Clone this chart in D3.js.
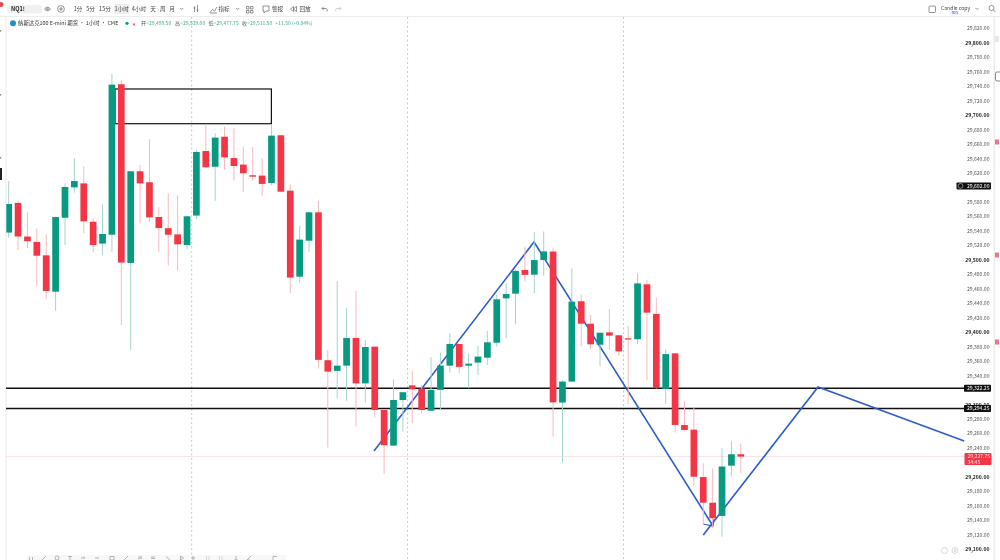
<!DOCTYPE html>
<html><head><meta charset="utf-8">
<script src="https://cdn.jsdelivr.net/npm/d3@7"></script>
<style>
html,body{margin:0;padding:0;background:#fff;overflow:hidden}
svg{display:block;filter:blur(0.4px)}
text{font-family:"Noto Sans CJK SC","Liberation Sans",Arial,sans-serif}
</style></head><body><svg id="c" width="1000" height="560"></svg>
<script>
const opens=[29537.5,29578.5,29532,29524.5,29506,29455.75,29558,29600,29605.5,29552.5,29522.25,29534.5,29742.5,29495.5,29622.25,29607,29559,29543.5,29535,29520.25,29561,29650.25,29628.5,29670,29640.5,29631.5,29616.75,29616.25,29606,29672,29595.5,29476.5,29526.25,29565.5,29361,29346.25,29353.5,29391.75,29329,29379.75,29292.25,29243,29306,29326.25,29321.75,29291.25,29320,29353.5,29383.5,29353.5,29357.75,29364.5,29385.25,29446.5,29453,29485.75,29479.25,29499.5,29511.25,29302.5,29331.5,29442.5,29411.5,29382.5,29399.5,29395.5,29391.25,29390,29466,29425,29321.25,29370.5,29271.5,29265,29199.5,29164,29145.75,29215.25,29231];
const closes=[29577,29532,29525.5,29505.5,29456.75,29559,29600.5,29608.75,29553,29520.25,29535.5,29742,29496,29622.25,29605.5,29558.5,29543.75,29534.5,29521.25,29560,29649,29627.75,29668.75,29641.5,29629.5,29619.5,29614.75,29604.75,29671.5,29594,29475.25,29527.75,29565.5,29361.5,29345.25,29353.5,29391.75,29329,29379.25,29292.25,29243.5,29306,29316.75,29320.75,29292.25,29320,29353.5,29383.5,29351.75,29356.25,29366,29385.75,29445.25,29452.5,29484.5,29479,29499.5,29511.5,29302.75,29331.5,29442,29411.5,29383,29399,29395,29373.25,29390,29467.25,29426.75,29322.5,29369.5,29271.5,29264.5,29200,29164,29142.5,29214,29231,29227.75];
const highs=[29608.75,29581.5,29565.5,29543,29535,29559.5,29605.5,29640.25,29629,29557.25,29576.5,29756.75,29748.5,29622.5,29631,29666.5,29572.5,29591.75,29589,29560.5,29651.75,29687.5,29674.75,29684,29682.5,29656.25,29655.5,29640.25,29686.25,29672.5,29604.25,29546.5,29565.75,29581.5,29375.25,29470.5,29433.25,29456.75,29389,29380.25,29292.5,29334.5,29317,29346.25,29326.75,29365,29371.5,29398.25,29384,29370.5,29380.75,29401.5,29451.25,29467.25,29486.75,29518,29538.25,29539,29515.75,29333.75,29488,29452,29423.5,29399.5,29431.75,29396,29408.75,29481.25,29472,29448,29376,29371,29303.75,29296,29218.5,29211.5,29239.25,29249,29246];
const lows=[29530.5,29513.5,29515.75,29463.75,29446,29429.5,29520.25,29592.75,29536.5,29510.75,29506.5,29511,29409.75,29375.25,29550.25,29552.5,29511,29492.25,29485,29514.25,29556.25,29626.25,29581.25,29624,29609.25,29593.25,29609.25,29588,29603.25,29594,29453.5,29468.25,29511,29349.5,29240.25,29308.5,29305,29269.25,29302.5,29282,29203.75,29242.5,29262.25,29273.75,29287.5,29291,29292.25,29343.75,29343,29322.25,29340.5,29354.5,29379.75,29391.25,29411,29469.5,29453.5,29477.75,29255.5,29219.5,29331,29380.75,29376,29353,29375.25,29367.25,29300.5,29383.5,29333.75,29321.75,29300.5,29261,29263.75,29187.25,29133.25,29128.5,29117,29201,29204.75];
const hiddenTicks=[29220,29320,29600];
const priceTicks=d3.range(29100,29821,20).filter(t=>!hiddenTicks.includes(t));
const dividers=[19.5,42.5,65.5];
const levels=[29322.25,29294.25];
const lastPrice=29227.75;
const hoverPrice=29602;
const boxIdx=[11.33,27.99];
const boxPrice=[29736,29688];
const blueA=[[38.92,29235.5],[55.97,29524.5],[75.04,29131.8]];
const blueB=[[74,29119.4],[86.23,29323.9],[101.8,29249.4]];
const intervals=["1分","5分","15分","1小时","4小时","天","周","月"];
const intervalX=[78,90.5,105,121.7,139,153,162.7,172];
const ohlcLabels=["开","高","低","收"];
const ohlcValues=["29,499.50","29,539.00","29,477.75","29,511.50"];

const GREEN="#089981",RED="#f23645",AX="#555";
const svg=d3.select("#c");
const x=d3.scaleLinear().domain([0,78]).range([8.67,740.8]);
const y=d3.scaleLinear().domain([29100,29800]).range([549,42.7]);
const bw=6.7;

svg.append("clipPath").attr("id","pane").append("rect").attr("x",6.3).attr("y",17).attr("width",958).attr("height",543);

// panel frame
svg.append("rect").attr("x",5.5).attr("y",16).attr("width",1).attr("height",544).attr("fill","#ececec");
svg.append("rect").attr("x",993.5).attr("y",16).attr("width",1.5).attr("height",544).attr("fill","#ececec");
svg.append("rect").attr("x",0).attr("y",16).attr("width",1000).attr("height",1).attr("fill","#ececec");

// dotted dividers
svg.selectAll("line.div").data(dividers).join("line").attr("class","div")
 .attr("x1",d=>x(d)).attr("x2",d=>x(d)).attr("y1",17).attr("y2",560)
 .attr("stroke","#b9bcc4").attr("stroke-width",.8).attr("stroke-dasharray","2 2.5");

// last price line
svg.append("line").attr("x1",6).attr("x2",964).attr("y1",y(lastPrice)).attr("y2",y(lastPrice))
 .attr("stroke","#f9e3e5").attr("stroke-width",1);

// drawings (below candles)
svg.append("rect").attr("x",x(boxIdx[0])).attr("y",y(boxPrice[0])).attr("width",x(boxIdx[1])-x(boxIdx[0])).attr("height",y(boxPrice[1])-y(boxPrice[0]))
 .attr("fill","none").attr("stroke","#111").attr("stroke-width",1.2);
svg.selectAll("line.lev").data(levels).join("line").attr("class","lev")
 .attr("x1",6).attr("x2",964).attr("y1",d=>y(d)).attr("y2",d=>y(d)).attr("stroke","#111").attr("stroke-width",1.5);
const ln=d3.line().x(d=>x(d[0])).y(d=>y(d[1]));
[blueA,blueB].forEach(p=>svg.append("path").attr("d",ln(p)).attr("fill","none").attr("stroke","#2d5ccd").attr("stroke-width",1.6));
const tip=blueA[2];
svg.append("path").attr("d",`M${x(tip[0])-10},${y(tip[1])-2}L${x(tip[0])},${y(tip[1])}L${x(tip[0])+1},${y(tip[1])-7}`)
 .attr("fill","none").attr("stroke","#2d5ccd").attr("stroke-width",1.2);

// candles
const candles=opens.map((o,i)=>({i,o,c:closes[i],h:highs[i],l:lows[i]}));
const g=svg.append("g").attr("clip-path","url(#pane)");
g.selectAll("line").data(candles).join("line")
 .attr("x1",d=>x(d.i)).attr("x2",d=>x(d.i)).attr("y1",d=>y(d.h)).attr("y2",d=>y(d.l))
 .attr("stroke",d=>d.c>=d.o?"#a3d6ce":"#f8b9bd").attr("stroke-width",1);
g.selectAll("rect").data(candles).join("rect")
 .attr("x",d=>x(d.i)-bw/2).attr("width",bw)
 .attr("y",d=>y(Math.max(d.o,d.c)))
 .attr("height",d=>Math.max(1.2,Math.abs(y(d.o)-y(d.c))))
 .attr("fill",d=>d.c>=d.o?GREEN:RED);

// right axis
const axis=d3.axisRight(y).tickValues(priceTicks).tickSize(0).tickPadding(0).tickFormat(d3.format(",.2f"));
const ag=svg.append("g").attr("transform","translate(989.5,0)").call(axis);
ag.select(".domain").remove();
ag.selectAll("text").attr("text-anchor","end").attr("x",0).attr("dy","0.33em")
 .attr("fill",d=>d%100===0?"#222":AX).attr("font-weight",d=>d%100===0?700:400)
 .attr("font-size",5.1).attr("font-family","Liberation Sans");

// price badges
function badge(p,x0,w,h,fill,txt){
 const yy=y(p);
 svg.append("rect").attr("x",x0).attr("y",yy-h/2).attr("width",w).attr("height",h).attr("rx",.8).attr("fill",fill);
 svg.append("text").attr("x",989.5).attr("y",yy+1.8).attr("text-anchor","end").attr("font-size",5.1).attr("fill","#fff").attr("font-family","Liberation Sans").text(txt);
}
const fmt=d3.format(",.2f");
badge(hoverPrice,956.5,34.5,7,"#111",fmt(hoverPrice));
svg.append("circle").attr("cx",960.5).attr("cy",y(hoverPrice)).attr("r",2.4).attr("fill","none").attr("stroke","#ccc").attr("stroke-width",.6);
levels.forEach(l=>badge(l,964,27,7,"#111",fmt(l)));
const ly=y(lastPrice);
svg.append("rect").attr("x",964.5).attr("y",ly-3.5).attr("width",27).attr("height",12).attr("rx",.8).attr("fill",RED);
svg.append("text").attr("x",967.5).attr("y",ly+1.8).attr("font-size",5.1).attr("fill","#ffd9dc").attr("font-family","Liberation Sans").text(fmt(lastPrice));
svg.append("text").attr("x",967.5).attr("y",ly+7.2).attr("font-size",5.1).attr("fill","#ffd9dc").attr("font-family","Liberation Sans").text("34:45");

// right-side flags
[142,255,342].forEach(v=>svg.append("rect").attr("x",995).attr("y",v-2.5).attr("width",4).attr("height",5).attr("fill","#ea7a80"));
svg.append("rect").attr("x",995.5).attr("y",72).attr("width",6).attr("height",9).attr("rx",1.5).attr("fill","#fff").attr("stroke","#555").attr("stroke-width",.7);
svg.append("rect").attr("x",995).attr("y",36).attr("width",4).attr("height",6).attr("fill","#e8e8e8");

// left edge
svg.append("rect").attr("x",0).attr("y",168).attr("width",2).attr("height",12).attr("fill","#222");
[30,94,157].forEach(v=>svg.append("rect").attr("x",0).attr("y",v).attr("width",1.2).attr("height",1.6).attr("fill","#888"));
svg.append("circle").attr("cx",1).attr("cy",4.5).attr("r",2.5).attr("fill","#e5484d");

// top toolbar
const tb=svg.append("g").attr("font-size",5.6).attr("fill","#444");
tb.append("rect").attr("x",7).attr("y",5).attr("width",35).attr("height",8.5).attr("rx",2).attr("fill","#f1f1f3");
tb.append("text").attr("x",11).attr("y",11.2).attr("font-weight",700).attr("fill","#222").text("NQ1!");
tb.append("rect").attr("x",114).attr("y",4).attr("width",15.5).attr("height",10).attr("rx",1.5).attr("fill","#eeeef0");
tb.selectAll("text.iv").data(intervals).join("text").attr("class","iv")
 .attr("x",(d,i)=>intervalX[i]).attr("y",11.2).attr("text-anchor","middle").text(d=>d);
tb.append("text").attr("x",218.4).attr("y",11.2).text("指标");
tb.append("text").attr("x",272).attr("y",11.2).text("警报");
tb.append("text").attr("x",299.4).attr("y",11.2).text("回放");
tb.append("text").attr("x",941).attr("y",9.6).attr("font-size",5.1).attr("font-family","Liberation Sans").text("Candle copy");
tb.append("text").attr("x",955).attr("y",14).attr("text-anchor","middle").attr("font-size",3.6).attr("fill","#2962ff").text("保存");
const ic=svg.append("g").attr("fill","none").attr("stroke","#666").attr("stroke-width",.7);
ic.append("path").attr("d","M44.5,9q3,-3.5,6,0q-3,3.5,-6,0z");
ic.append("circle").attr("cx",47.5).attr("cy",9).attr("r",.9);
ic.append("circle").attr("cx",61).attr("cy",9).attr("r",3.4);
ic.append("path").attr("d","M59,9h4M61,7v4");
ic.append("path").attr("d","M180.2,8l1.5,1.5l1.5,-1.5M236.2,8l1.5,1.5l1.5,-1.5M975.5,8l1.5,1.5l1.5,-1.5");
ic.append("path").attr("d","M194.5,6v6M197.5,5v7M193.5,8h2M196.5,10h2");
ic.append("path").attr("d","M210,12.5l2.5,-3l2,1.5l2.5,-4M210,13h7");
ic.append("path").attr("d","M246.5,6.5h2.5v2.5h-2.5zM250.5,6.5h2.5v2.5h-2.5zM246.5,10.5h2.5v2.5h-2.5zM250.5,10.5h2.5v2.5h-2.5z");
ic.append("path").attr("d","M263,6h6v5h-3l-2,2v-2h-1z");
ic.append("path").attr("d","M293.5,6.5l-3,2.5l3,2.5zM296.5,6.5l-3,2.5l3,2.5z");
ic.append("path").attr("d","M322,8.5h4a2,2,0,0,1,1,3M322,8.5l1.7,-1.7M322,8.5l1.7,1.7");
ic.append("path").attr("d","M341,8.5h-4a2,2,0,0,0,-1,3M341,8.5l-1.7,-1.7M341,8.5l-1.7,1.7").attr("stroke","#bbb");
ic.append("rect").attr("x",929).attr("y",6).attr("width",6.5).attr("height",6.5).attr("rx",1);
ic.append("circle").attr("cx",991.5).attr("cy",8).attr("r",2.5);
ic.append("path").attr("d","M993.5,10l2,2");

// legend line
const lg=svg.append("g");
lg.append("circle").attr("cx",13).attr("cy",23.3).attr("r",3).attr("fill","#1a94c4");
lg.append("text").attr("x",18).attr("y",25.3).attr("fill","#333").attr("font-size",5.4).text("纳斯达克100 E-mini 期货 · 1小时 · CME");
lg.append("circle").attr("cx",127).attr("cy",23.3).attr("r",1.6).attr("fill","#0f9d8a");
lg.append("text").attr("x",131.5).attr("y",25.5).attr("fill","#f23645").attr("font-size",5).text("∗");
const ohlcX=[141,175,208.5,242];
ohlcLabels.forEach((t,i)=>{
 lg.append("text").attr("x",ohlcX[i]).attr("y",25.3).attr("fill","#555").attr("font-size",5).text(t);
 lg.append("text").attr("x",ohlcX[i]+5.2).attr("y",25.3).attr("fill","#3aa892").attr("font-size",5).attr("font-family","Liberation Sans").text("="+ohlcValues[i]);
});
lg.append("text").attr("x",275.5).attr("y",25.3).attr("fill","#3aa892").attr("font-size",5).attr("font-family","Liberation Sans").text("+11.50 (+0.04%)");

// bottom toolbar
svg.append("rect").attr("x",27).attr("y",555).attr("width",259).attr("height",5).attr("fill","#f8f8f9");
const bt=svg.append("g").attr("fill","none").attr("stroke","#888").attr("stroke-width",.6);
const glyphs=["M-1.5,557v3M1.5,557v3","M-2,560l4,-4","M-2,558a2,2,0,1,0,4,0a2,2,0,1,0,-4,0","M-2,556.5h4M0,556.5v3.5","M-2,558h4l-1.5,-1.5","M-2,558h4","M-2,556.5h4v3.5h-4z","M-2,560l4,-4","M-2,557h4M-2,559l4,-1","M-2,557h4M-2,558.5h4","M-2,556.5l4,3.5","M-1.5,556v4l3,-2z","M0,556v4M-2,558h4","M-2,557h1M0.5,557h1M-2,559h1M0.5,559h1","M-2,557h1M0.5,557h1M-2,559h1M0.5,559h1","M0,556v4M-2,560h4","M-2,560l4,-4M-2,560h3","M-2,560v-3.5h4"];
[31,44,57,70,83,97,112,126,140,153,168,182,193,208,221,236,249,275].forEach((v,i)=>bt.append("path").attr("transform",`translate(${v},0)`).attr("d",glyphs[i]));

// faint watermark marks, illegible in the source
const wm=svg.append("g").attr("fill","none").attr("stroke","#cfcfcf").attr("stroke-width",.8);
wm.append("circle").attr("cx",944.5).attr("cy",550.5).attr("r",3);
wm.append("circle").attr("cx",955).attr("cy",550.5).attr("r",3);
wm.append("circle").attr("cx",955).attr("cy",550.5).attr("r",1.2);
</script></body></html>
